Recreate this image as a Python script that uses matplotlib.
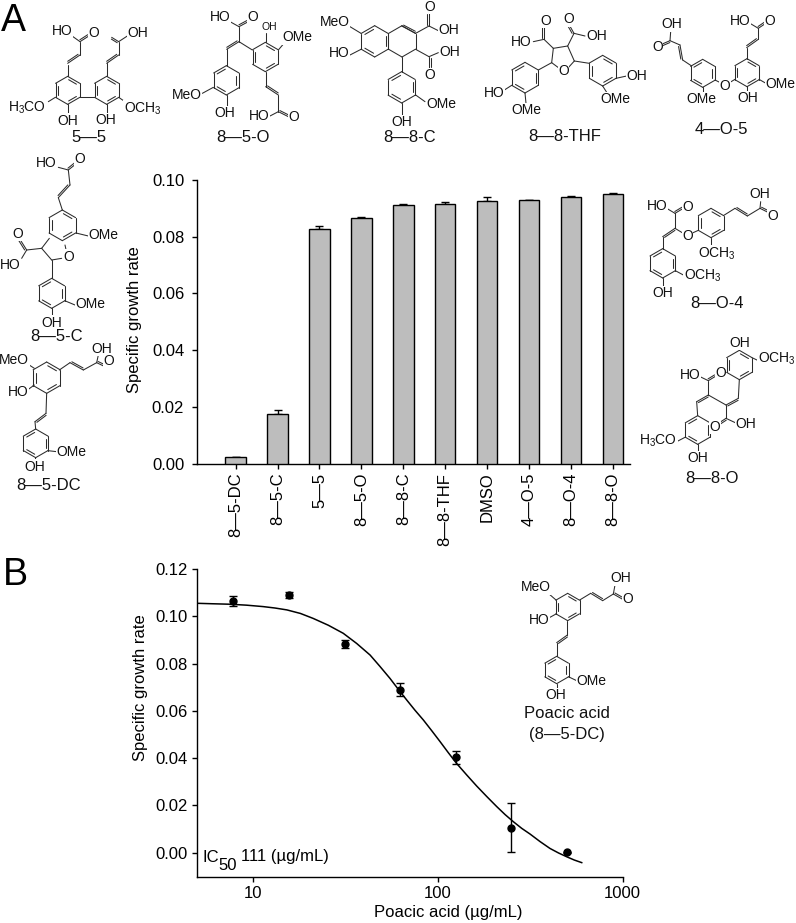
import numpy as np
import matplotlib
matplotlib.use("Agg")
from matplotlib import pyplot as plt
from matplotlib.transforms import ScaledTranslation

plt.rcParams['font.family'] = ['Liberation Sans', 'DejaVu Sans']
plt.rcParams['mathtext.default'] = 'regular'

# panel A
compounds = ['8—5-DC', '8—5-C', '5—5', '8—5-O', '8—8-C', '8—8-THF', 'DMSO', '4—O-5', '8—O-4', '8—8-O']
growth = [0.0023, 0.0174, 0.0826, 0.0867, 0.0913, 0.0916, 0.0927, 0.0930, 0.0940, 0.0952]
growth_err = [0.0, 0.0014, 0.0013, 0.0004, 0.0004, 0.0007, 0.0012, 0.0001, 0.0002, 0.0002]

# panel B
dose = [7.8, 15.6, 31.25, 62.5, 125, 250, 500]
dose_growth = [0.1065, 0.1090, 0.0883, 0.0690, 0.0403, 0.0106, 0.0002]
dose_err = [0.0020, 0.0012, 0.0018, 0.0028, 0.0027, 0.0103, 0.0003]
fit_x = [4.93, 6.0, 7.47, 9.2, 11.3, 13.1, 15.2, 18, 21.1, 25.5, 30.7, 36.3, 42.9, 48.5, 55, 61, 67.7, 75, 83.4,
         92.5, 102.6, 113.5, 126, 143, 162, 184, 208, 231, 256, 284, 315, 357, 404, 449, 497, 547, 600]
fit_y = [0.1055, 0.1053, 0.1051, 0.1047, 0.1041, 0.1035, 0.1027, 0.1012, 0.0991, 0.0962, 0.0928, 0.0885,
         0.0836, 0.0788, 0.0737, 0.0691, 0.0646, 0.0603, 0.0561, 0.0516, 0.0470, 0.0424, 0.0378, 0.0329,
         0.0282, 0.0237, 0.0195, 0.0161, 0.0131, 0.0103, 0.0079, 0.0047, 0.0018, -0.0001, -0.0017, -0.0031, -0.0042]

W, H = 796, 923
fig = plt.figure(figsize=(W / 100, H / 100), dpi=100)


def box(l, t, r, b):
    return [l / W, 1 - b / H, (r - l) / W, (b - t) / H]


# full page layer in pixels, for the structures and loose text
ov = fig.add_axes([0, 0, 1, 1])
ov.set_xlim(0, W)
ov.set_ylim(H, 0)
ov.axis('off')

BOND = '#2b2b2b'


def draw_mol(ox, oy, rings=(), single=(), double=(), labels=()):
    # structure coordinates are in 3x units from (ox, oy)
    def p(x, y):
        return ox + x / 3, oy + y / 3

    def seg(a, b):
        ov.plot(*zip(p(*a), p(*b)), color=BOND, lw=0.75, solid_capstyle='round')

    for cx, cy, r, sides in rings:
        ang = np.radians(90 + 60 * np.arange(6))
        vx = cx + r * np.cos(ang)
        vy = cy - r * np.sin(ang)
        for i in range(6):
            j = (i + 1) % 6
            seg((vx[i], vy[i]), (vx[j], vy[j]))
            if i in sides:
                a = np.array([vx[i], vy[i]])
                b = np.array([vx[j], vy[j]])
                c = np.array([cx, cy])
                a2 = c + (a - c) * 0.8
                b2 = c + (b - c) * 0.8
                seg(a2 + (b2 - a2) * 0.1, b2 - (b2 - a2) * 0.1)
    for a, b in single:
        seg(a, b)
    for a, b in double:
        a, b = np.array(a, float), np.array(b, float)
        n = np.array([b[1] - a[1], a[0] - b[0]])
        n = n / np.hypot(*n) * 5
        seg(a, b)
        seg(a + n + (b - a) * 0.08, b + n - (b - a) * 0.08)
    for x, y, s, *size in labels:
        px, py = p(x, y)
        ov.text(px, py, s, ha='center', va='center', fontsize=size[0] if size else 10, color='#111111',
                bbox=dict(fc='white', ec='none', pad=0.3))


CH3 = 'CH$_3$'

# 5-5
draw_mol(0, 0, rings=[(203, 271, 42, [1, 3, 5]), (320, 271, 42, [1, 3, 5])],
         single=[((241, 292), (283, 292)), ((203, 229), (203, 195)), ((240, 165), (240, 125)),
                 ((240, 125), (212, 105)), ((320, 229), (320, 190)), ((356, 165), (356, 125)),
                 ((356, 125), (382, 108)), ((166, 292), (145, 305)), ((203, 313), (203, 342)),
                 ((320, 313), (320, 340)), ((356, 292), (375, 305))],
         double=[((203, 190), (240, 165)), ((320, 190), (356, 165)), ((240, 125), (268, 107)),
                 ((356, 125), (335, 112))],
         labels=[(187, 92, 'HO'), (281, 99, 'O'), (412, 99, 'OH'), (80, 322, 'H$_3$CO'),
                 (204, 362, 'OH'), (318, 360, 'OH'), (428, 327, 'O' + CH3), (268, 411, '5—5', 12)])

# 8-5-O
draw_mol(0, 0, rings=[(679, 241, 44, [0, 2, 4]), (796, 171, 44, [1, 3, 5])],
         single=[((680, 197), (680, 148)), ((717, 125), (757, 150)), ((717, 125), (717, 80)),
                 ((717, 80), (690, 65)), ((797, 127), (797, 100)), ((835, 150), (852, 130)),
                 ((797, 215), (797, 260)), ((835, 285), (835, 335)), ((835, 335), (810, 348)),
                 ((640, 262), (607, 280)), ((680, 285), (680, 320))],
         double=[((680, 148), (717, 125)), ((717, 80), (745, 65)), ((797, 260), (835, 285)),
                 ((835, 335), (865, 350))],
         labels=[(660, 52, 'HO'), (757, 52, 'O'), (808, 80, 'OH', 7.5), (892, 112, 'OMe'),
                 (777, 348, 'HO'), (882, 352, 'O'), (560, 285, 'MeO'), (673, 340, 'OH'),
                 (728, 412, '8—5-O', 12)])

# 8-8-C
draw_mol(310, 0, rings=[(194, 124, 47, [0, 2, 4]), (276, 124, 47, []), (275, 262, 47, [0, 2, 4])],
         single=[((317, 100), (357, 78)), ((357, 78), (385, 92)), ((317, 148), (357, 170)),
                 ((357, 170), (385, 158)), ((275, 170), (275, 215)), ((317, 285), (345, 305)),
                 ((275, 310), (275, 345)), ((153, 100), (120, 80)), ((153, 148), (120, 165))],
         double=[((275, 78), (317, 100)), ((357, 78), (357, 40)), ((357, 170), (357, 205))],
         labels=[(360, 20, 'O'), (415, 90, 'OH'), (420, 155, 'OH'), (358, 225, 'O'),
                 (395, 312, 'OMe'), (275, 367, 'OH'), (75, 65, 'MeO'), (88, 160, 'HO'),
                 (300, 412, '8—8-C', 12)])

# 8-8-THF
draw_mol(400, 0, rings=[(375, 233, 46, [0, 2, 4]), (608, 212, 46, [5, 1, 3])],
         single=[((478, 205), (455, 188)), ((455, 188), (460, 145)), ((460, 145), (503, 138)),
                 ((503, 138), (523, 183)), ((523, 183), (503, 205)), ((460, 145), (432, 118)),
                 ((432, 118), (400, 125)), ((503, 138), (522, 100)), ((522, 100), (555, 108)),
                 ((455, 188), (415, 210)), ((335, 256), (310, 272)), ((375, 279), (378, 310)),
                 ((523, 183), (568, 190)), ((648, 235), (680, 228)), ((608, 258), (622, 280))],
         double=[((432, 118), (432, 78)), ((522, 100), (505, 70))],
         labels=[(490, 212, 'O'), (436, 63, 'O'), (365, 125, 'HO'), (505, 58, 'O'), (590, 107, 'OH'),
                 (282, 278, 'HO'), (378, 330, 'OMe'), (710, 228, 'OH'), (645, 297, 'OMe'),
                 (494, 410, '8—8-THF', 12)])

# 4-O-5
draw_mol(400, 0, rings=[(908, 220, 42, [0, 2, 4]), (1041, 218, 42, [1, 3, 5])],
         single=[((875, 198), (848, 180)), ((840, 135), (810, 122)), ((810, 122), (812, 95)),
                 ((908, 262), (908, 280)), ((945, 240), (965, 250)), ((985, 250), (1005, 238)),
                 ((1040, 178), (1040, 143)), ((1075, 118), (1075, 85)), ((1075, 85), (1050, 70)),
                 ((1077, 238), (1098, 250)), ((1040, 258), (1040, 280))],
         double=[((848, 180), (840, 135)), ((810, 122), (780, 135)), ((1040, 143), (1075, 118)),
                 ((1075, 85), (1100, 68))],
         labels=[(815, 73, 'OH'), (773, 140, 'O'), (905, 298, 'OMe'), (975, 258, 'O'), (1020, 63, 'HO'),
                 (1110, 62, 'O'), (1142, 253, 'OMe'), (1043, 295, 'OH'), (965, 390, '4—O-5', 12)])

# 8-5-C
draw_mol(0, 150, rings=[(187, 226, 46, [1, 3, 5]), (155, 430, 45, [0, 2, 4])],
         single=[((187, 180), (175, 143)), ((210, 105), (205, 60)), ((205, 60), (175, 52)),
                 ((228, 249), (265, 258)), ((195, 285), (200, 308)), ((185, 325), (155, 330)),
                 ((155, 330), (125, 295)), ((125, 295), (148, 265)), ((125, 295), (80, 300)),
                 ((80, 300), (65, 325)), ((155, 330), (155, 385)), ((194, 452), (225, 465)),
                 ((155, 475), (155, 500))],
         double=[((175, 143), (210, 105)), ((205, 60), (230, 40)), ((80, 300), (58, 265))],
         labels=[(138, 40, 'HO'), (240, 28, 'O'), (310, 255, 'OMe'), (205, 320, 'O'), (52, 252, 'O'),
                 (32, 345, 'HO'), (270, 463, 'OMe'), (155, 518, 'OH'), (170, 560, '8—5-C', 12)])

# 8-5-DC
draw_mol(0, 150, rings=[(140, 683, 47, [1, 3, 5]), (107, 880, 43, [0, 2, 4])],
         single=[((178, 660), (210, 638)), ((250, 660), (290, 638)), ((290, 638), (295, 615)),
                 ((103, 655), (80, 640)), ((103, 705), (85, 718)), ((140, 730), (138, 790)),
                 ((105, 815), (107, 837)), ((144, 902), (170, 905)), ((107, 923), (105, 935))],
         double=[((210, 638), (250, 660)), ((290, 638), (315, 650)), ((138, 790), (105, 815))],
         labels=[(305, 597, 'OH'), (325, 632, 'O'), (43, 630, 'MeO'), (55, 725, 'HO'), (215, 905, 'OMe'),
                 (105, 950, 'OH'), (145, 1005, '8—5-DC', 12)])

# 8-O-4
draw_mol(630, 170, rings=[(243, 159, 44, [1, 3, 5]), (98, 280, 44, [0, 2, 4])],
         single=[((280, 137), (315, 115)), ((352, 138), (390, 115)), ((390, 115), (392, 95)),
                 ((205, 181), (185, 190)), ((160, 190), (135, 175)), ((135, 175), (135, 130)),
                 ((135, 130), (110, 115)), ((98, 200), (98, 236)), ((136, 302), (160, 315)),
                 ((98, 324), (98, 350)), ((243, 203), (243, 230))],
         double=[((315, 115), (352, 138)), ((135, 175), (98, 200)), ((390, 115), (420, 130)),
                 ((135, 130), (160, 115))],
         labels=[(390, 72, 'OH'), (428, 137, 'O'), (172, 198, 'O'), (82, 108, 'HO'), (172, 112, 'O'),
                 (218, 318, 'O' + CH3), (98, 370, 'OH'), (262, 250, 'O' + CH3), (260, 400, '8—O-4', 12)])

# 8-8-O
draw_mol(630, 170, rings=[(328, 585, 44, [1, 3, 5]), (203, 780, 43, [0, 2, 4])],
         single=[((328, 541), (328, 530)), ((366, 563), (385, 572)), ((328, 629), (325, 685)),
                 ((288, 705), (235, 675)), ((288, 705), (288, 745)), ((288, 745), (320, 760)),
                 ((235, 675), (235, 632)), ((235, 632), (210, 620)), ((200, 695), (203, 737)),
                 ((165, 802), (140, 815)), ((203, 823), (203, 848))],
         double=[((325, 685), (288, 705)), ((288, 745), (262, 762)), ((235, 632), (258, 618)),
                 ((235, 675), (200, 695))],
         labels=[(328, 518, 'OH'), (440, 565, 'O' + CH3), (348, 762, 'OH'), (255, 770, 'O'),
                 (180, 615, 'HO'), (272, 608, 'O'), (85, 812, 'H$_3$CO'), (203, 865, 'OH'),
                 (245, 925, '8—8-O', 12)])

# poacic acid inset
draw_mol(130, 550, rings=[(1313, 171, 41, [1, 3, 5]), (1280, 360, 41, [0, 2, 4])],
         single=[((1349, 150), (1382, 130)), ((1418, 152), (1450, 132)), ((1450, 132), (1455, 105)),
                 ((1278, 150), (1255, 130)), ((1278, 192), (1258, 203)), ((1312, 212), (1312, 255)),
                 ((1280, 278), (1280, 319)), ((1315, 380), (1342, 393)), ((1280, 401), (1280, 420))],
         double=[((1382, 130), (1418, 152)), ((1450, 132), (1478, 148)), ((1312, 255), (1280, 278))],
         labels=[(1472, 85, 'OH'), (1492, 148, 'O'), (1218, 112, 'MeO'), (1228, 210, 'HO'),
                 (1385, 393, 'OMe'), (1277, 435, 'OH'), (1312, 490, 'Poacic acid', 12),
                 (1312, 555, '(8—5-DC)', 12)])

ov.text(13, 21, 'A', fontsize=27, ha='center', va='center')
ov.text(15, 575, 'B', fontsize=27, ha='center', va='center')

# bar chart
ax = fig.add_axes(box(196.7, 180, 630, 463.7))
ax.patch.set_alpha(0)
pos = np.arange(len(compounds))
ax.bar(pos, growth, width=0.49, color='#bdbdbd', edgecolor='black', linewidth=1.0, zorder=3)
err_low = np.zeros(len(growth_err))
ax.errorbar(pos, growth, yerr=[err_low, growth_err], fmt='none', ecolor='black',
            elinewidth=1.0, capsize=3.2, capthick=1.0, zorder=2)
ax.set_xlim(-0.93, 9.41)
ax.set_ylim(0, 0.10)
ax.set_xticks(pos)
ax.set_xticklabels(compounds, rotation=90, fontsize=12, va='top', ha='center')
ax.set_yticks([0, 0.02, 0.04, 0.06, 0.08, 0.10])
ax.set_yticklabels(['0.00', '0.02', '0.04', '0.06', '0.08', '0.10'], fontsize=12)
ax.set_ylabel('Specific growth rate', fontsize=12, va='center')
ax.yaxis.set_label_coords(135, 320, transform=ov.transData)
shift = ScaledTranslation(-4 / 100, 0, fig.dpi_scale_trans)
for t in ax.get_xticklabels():
    t.set_transform(t.get_transform() + shift)

# dose response
bx = fig.add_axes(box(196.7, 569, 622.7, 876.7))
bx.patch.set_alpha(0)
bx.plot(fit_x, fit_y, color='black', lw=1.1, zorder=2)
bx.errorbar(dose, dose_growth, yerr=dose_err, fmt='o', color='black', ms=5,
            elinewidth=1.0, capsize=3, capthick=1.0, zorder=3)
bx.set_xscale('log')
bx.set_xlim(4.94, 1000)
bx.set_ylim(-0.01015, 0.12)
bx.set_xticks([10, 100, 1000])
bx.set_xticklabels(['10', '100', '1000'], fontsize=12)
bx.minorticks_off()
bx.set_yticks([0, 0.02, 0.04, 0.06, 0.08, 0.10, 0.12])
bx.set_yticklabels(['0.00', '0.02', '0.04', '0.06', '0.08', '0.10', '0.12'], fontsize=12)
bx.set_ylabel('Specific growth rate', fontsize=12, va='center')
bx.yaxis.set_label_coords(141, 688, transform=ov.transData)
bx.set_xlabel('Poacic acid (µg/mL)', fontsize=12, va='center')
bx.xaxis.set_label_coords(448, 913, transform=ov.transData)
bx.text(203, 857, 'IC', transform=ov.transData, fontsize=12, va='center')
bx.text(218, 865, '50', transform=ov.transData, fontsize=12, va='center')
bx.text(241, 857, '111 (µg/mL)', transform=ov.transData, fontsize=12, va='center')

for a in (ax, bx):
    a.spines['top'].set_visible(False)
    a.spines['right'].set_visible(False)
    a.spines['left'].set_linewidth(1.0)
    a.spines['bottom'].set_linewidth(1.0)
    a.tick_params(axis='both', length=3.5, width=1.0, pad=3)
ax.tick_params(axis='y', pad=5.5)

fig.savefig('out.png', dpi=100)
